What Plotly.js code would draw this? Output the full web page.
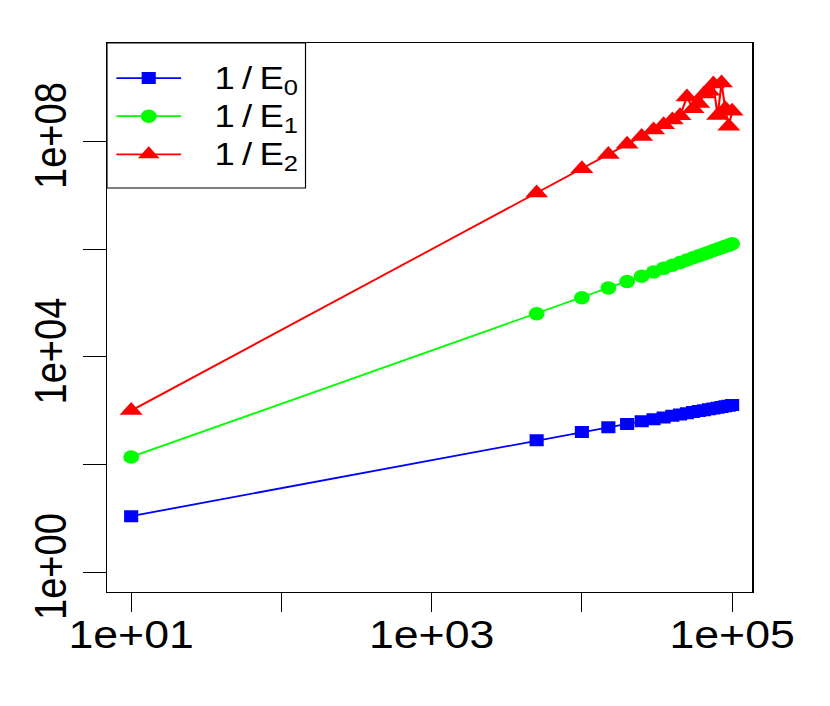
<!DOCTYPE html>
<html>
<head>
<meta charset="utf-8">
<script src="https://cdn.plot.ly/plotly-3.0.1.min.js"></script>
<style>
  html, body { margin: 0; padding: 0; background: #ffffff; overflow: hidden; }
  #wrap { width: 830px; height: 706px; overflow: hidden; }
  #plot { width: 706px; height: 706px; transform: scaleX(1.17564); transform-origin: 0 0; }
</style>
</head>
<body>
<div id="wrap"><div id="plot"></div></div>
<script>
// ---- data ----
const xValues = [10, 5000, 10000, 15000, 20000, 25000, 30000, 35000, 40000, 45000, 50000,
                 55000, 60000, 65000, 70000, 75000, 80000, 85000, 90000, 95000, 100000];
const invE0 = [11, 283, 400, 490, 566, 632, 693, 748, 800, 849, 894,
               938, 980, 1020, 1058, 1095, 1131, 1166, 1200, 1233, 1265];
const invE1 = [138, 63000, 125000, 188000, 250000, 312000, 375000, 437000, 500000, 562000, 625000,
               687000, 750000, 812000, 875000, 937000, 1000000, 1060000, 1120000, 1180000, 1250000];
const invE2 = [1000, 1.1e7, 3.1e7, 5.7e7, 8.8e7, 1.23e8, 1.61e8, 2.03e8, 2.48e8, 2.96e8, 6.6e8,
               4.0e8, 5.0e8, 7.5e8, 8.5e8, 1.15e9, 3.0e8, 1.2e9, 4.0e8, 1.9e8, 3.6e8];
const seriesNames = ['1\u2009/\u2009E<sub>0</sub>', '1\u2009/\u2009E<sub>1</sub>', '1\u2009/\u2009E<sub>2</sub>'];
const xTickVals = [10, 1000, 100000];
const xTickText = ['1e+01', '1e+03', '1e+05'];
const xMinorTicks = [100, 10000];
const yTickVals = [1, 10000, 100000000];
const yTickText = ['1e+00', '1e+04', '1e+08'];
const yMinorTicks = [100, 1000000];

const FONT = 'Liberation Sans, Arial, Helvetica, sans-serif';
const legendLabel = s => '<span style="font-size:31px">\u00a0\u00a0\u2009' + s + '</span>';

const traces = [
  { x: xValues, y: invE0, name: legendLabel(seriesNames[0]), type: 'scatter', mode: 'lines+markers',
    line: { color: '#0000ff', width: 1.8 }, marker: { symbol: 'square', size: 12, color: '#0000ff' } },
  { x: xValues, y: invE1, name: legendLabel(seriesNames[1]), type: 'scatter', mode: 'lines+markers',
    line: { color: '#00ff00', width: 1.8 }, marker: { symbol: 'circle', size: 13.5, color: '#00ff00' } },
  { x: xValues, y: invE2, name: legendLabel(seriesNames[2]), type: 'scatter', mode: 'lines+markers',
    line: { color: '#ff0000', width: 1.8 }, marker: { symbol: 'triangle-up', size: 17, color: '#ff0000' } }
];

const axisCommon = {
  type: 'log', showgrid: false, zeroline: false,
  showline: true, mirror: true, linecolor: '#000000', linewidth: 1,
  ticks: 'outside', ticklen: 19, tickwidth: 1, tickcolor: '#000000',
  tickfont: { family: FONT, size: 38, color: '#000000' }
};

const layout = {
  width: 706, height: 706,
  margin: { l: 90.6, r: 65.5, t: 43, b: 114 },
  paper_bgcolor: '#ffffff', plot_bgcolor: '#ffffff',
  font: { family: FONT, color: '#000000' },
  xaxis: Object.assign({}, axisCommon, {
    range: [0.839, 5.135], tickmode: 'array', tickvals: xTickVals, ticktext: xTickText,
    ticklabelstandoff: -10,
    minor: { tickmode: 'array', tickvals: xMinorTicks, ticks: 'outside', ticklen: 19,
             tickwidth: 1, tickcolor: '#000000', showgrid: false }
  }),
  yaxis: Object.assign({}, axisCommon, {
    range: [-0.367, 9.824], tickmode: 'array', tickvals: yTickVals, ticktext: yTickText,
    tickangle: -90,
    minor: { tickmode: 'array', tickvals: yMinorTicks, ticks: 'outside', ticklen: 19,
             tickwidth: 1, tickcolor: '#000000', showgrid: false }
  }),
  showlegend: true,
  legend: {
    x: 0.0055, xanchor: 'left', y: 0.866, yanchor: 'middle',
    bgcolor: 'rgba(0,0,0,0)', borderwidth: 0,
    font: { family: FONT, size: 27, color: '#000000' },
    itemwidth: 55, tracegroupgap: 0
  },
  shapes: [
    { type: 'rect', xref: 'paper', yref: 'paper', x0: 0, x1: 0.3076, y0: 0.7359, y1: 1,
      line: { color: '#000000', width: 1 }, fillcolor: '#ffffff', layer: 'below' }
  ]
};

Plotly.newPlot('plot', traces, layout, { displayModeBar: false, staticPlot: true });
</script>
</body>
</html>
